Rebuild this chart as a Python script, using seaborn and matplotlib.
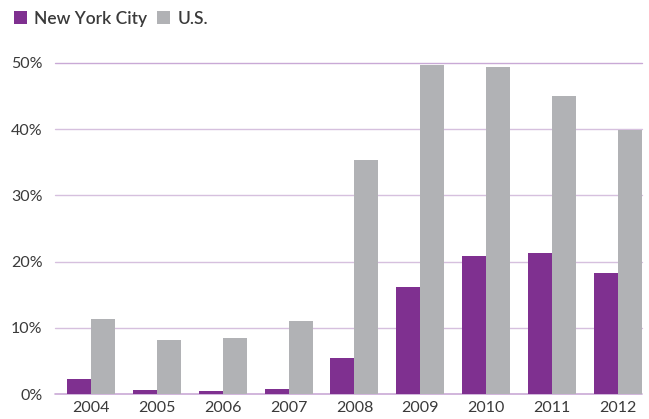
import pandas as pd
import matplotlib
matplotlib.use('Agg')
import matplotlib.pyplot as plt
import seaborn as sns

# Data
years = ['2004', '2005', '2006', '2007', '2008', '2009', '2010', '2011', '2012']
nyc = [2.3, 0.6, 0.45, 0.75, 5.4, 16.2, 20.8, 21.3, 18.3]
us = [11.3, 8.2, 8.5, 11.0, 35.3, 49.7, 49.4, 45.0, 39.9]
series = ['New York City', 'U.S.']
yticks = [0, 10, 20, 30, 40, 50]

df = pd.DataFrame({
    'year': years * 2,
    'value': nyc + us,
    'area': [series[0]] * len(years) + [series[1]] * len(years),
})

sns.set_style('white')
plt.rcParams['font.family'] = ['Lato', 'DejaVu Sans']

purple = '#7f3090'
gray = '#b1b2b5'
text_col = '#3a3a3a'

fig = plt.figure(figsize=(6.49, 4.19), dpi=100)
ax = fig.add_axes([55 / 649, 25 / 419, 587 / 649, 331 / 419])

sns.barplot(data=df, x='year', y='value', hue='area', hue_order=series,
            palette=[purple, gray], width=0.73, saturation=1,
            linewidth=0, edgecolor='none', ax=ax, zorder=3)

ax.set_ylim(0, 50)
ax.set_xlim(-0.55, 8.37)
ax.set_yticks(yticks)
ax.set_yticklabels([f'{t}%' for t in yticks])
ax.set_xlabel('')
ax.set_ylabel('')

# lavender gridlines behind the bars
for t in yticks:
    ax.axhline(t, color='#c9a9d6' if t in (0, 50) else '#d6c0de',
               lw=1.2 if t == 0 else 1.0, zorder=1, clip_on=False)

for s in ax.spines.values():
    s.set_visible(False)
ax.tick_params(axis='both', length=0, labelsize=11.5, colors=text_col)
ax.tick_params(axis='y', pad=9)
ax.tick_params(axis='x', pad=5)

# legend top-left
handles, labels = ax.get_legend_handles_labels()
ax.legend_.remove()
leg = fig.legend(handles, labels, loc='upper left', bbox_to_anchor=(-0.003, 1.012),
                 ncol=2, frameon=False, handlelength=0.75, handleheight=0.75,
                 handletextpad=0.4, columnspacing=0.6, fontsize=12.5)
for txt in leg.get_texts():
    txt.set_color(text_col)
    txt.set_fontweight('semibold')

fig.savefig('out.png', dpi=100)
